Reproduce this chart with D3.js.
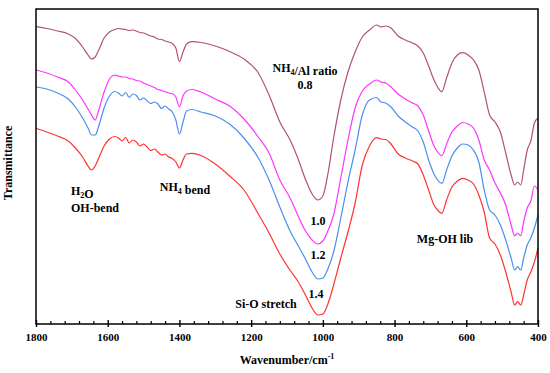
<!DOCTYPE html>
<html>
<head>
<meta charset="utf-8">
<script src="https://cdn.jsdelivr.net/npm/d3@7"></script>
<style>
  body { margin: 0; background: #fff; }
  text { font-family: "Times New Roman", "Liberation Serif", serif; font-weight: bold; }
</style>
</head>
<body>
<svg id="chart"></svg>
<script>
// wavenumber grid (cm-1), shared by all four spectra
const wavenumbers = [1800,1770,1740,1710,1690,1670,1655,1645,1635,1625,1610,1595,1580,1570,1560,1550,1540,1530,1520,1510,1500,1490,1480,1470,1460,1450,1440,1430,1420,1410,1400,1390,1380,1365,1340,1300,1260,1220,1180,1150,1120,1090,1070,1050,1030,1014,1000,985,970,950,930,910,890,870,850,838,825,810,790,770,750,735,720,705,690,680,668,655,640,625,610,595,580,565,550,535,520,505,490,475,465,457,448,440,430,420,410,400];

// transmittance (a.u., stacked) per NH4/Al ratio
const ratio08 = [297.3,295.5,293,290,285.5,277,269,265,267,274,286,292,294.5,295.5,295,294.5,293.5,294,293,291.5,291,289.5,288,287,285,284.5,283,282,280.5,276,262.5,272,280,282.3,281.5,278,272.5,265,251,229,202,183,166,146,130,124,128,152,186,224,252,272,287,294,299,297,298,296,288,284,281,278,271,258,244,237,232.3,246,261,269,271.3,269,264,254,232,209,202,192,171,149,139,142,139,154,174,183,201,206];
const ratio10 = [254,251,247,242,234,224,215,209,204,214,232,245,249,248,247,247,245.5,245,243.5,243,241,239.5,238,236.5,234.5,233.5,232.5,231,230.5,227,217.3,228,233,234.5,232,225,218,205,187,171,144,125,109,94,84,80,83,94,109,146,184,216,233,240,244,242,241,237,230,225,221,218,209,193,178,172,168.3,180,192,198,201.5,200,196,184,164,154,141,131,119,99,88.3,91,88.3,102,116,123,138,134];
const ratio12 = [237,235,231,225,217,206,196,189,189,198,216,228,232.5,231,228,231.5,226.5,230,228.5,224,226,223,220.5,222,220,215.5,218,215,212,204,190,202,213,214.5,212,208,200,186,166,144,117,92,79,66,52,45,46,56,72,106,142,174,209,224,226.5,222,221,217,208,202,197,193,182,164,150,144,140.7,154,168,176,180,179,174,162,134,114,109,99,84,66,54,57.3,54,66,79,86,96,109];
const ratio14 = [195.7,192,188,183,176,167,158,154,158,166,178,185,187.5,186,183,186.5,181,184,182,178,180,177,173.5,175,172,169,170,167,165.5,162,156,164,170,170.7,168.5,160,148,134,110,91,70,53,43,30,16,9,10,21,39,66,92,121,159,178,186.3,185,184.5,180,170,166,163,160,149,134,119,114,110.7,124,137,143,145.7,144,140,129,112,86,80,69,52,32,19,22.3,19,29,44,52,62,76];

const seriesNames = ['0.8', '1.0', '1.2', '1.4'];
const seriesColors = ['#b25274', '#ff33ff', '#4a8ff0', '#ff3333'];
const xTicks = [1800, 1600, 1400, 1200, 1000, 800, 600, 400];

const width = 550, height = 373;
const margin = {top: 9, right: 12, bottom: 49, left: 36};
const innerW = width - margin.left - margin.right;
const innerH = height - margin.top - margin.bottom;

const svg = d3.select('#chart')
    .attr('width', width)
    .attr('height', height);

const chart = svg.append('g')
    .attr('transform', `translate(${margin.left}, ${margin.top})`);

const xscale = d3.scaleLinear().domain([1800, 400]).range([0, innerW]);
const yscale = d3.scaleLinear().domain([0, 315]).range([innerH, 0]);

const line = d3.line()
    .x(d => xscale(d[0]))
    .y(d => yscale(d[1]))
    .curve(d3.curveMonotoneX);

[ratio08, ratio10, ratio12, ratio14].forEach((vals, i) => {
    chart.append('path')
        .datum(wavenumbers.map((w, j) => [w, vals[j]]))
        .attr('fill', 'none')
        .attr('stroke', seriesColors[i])
        .attr('stroke-width', 1.2)
        .attr('d', line);
});

// frame
chart.append('rect')
    .attr('width', innerW)
    .attr('height', innerH)
    .attr('fill', 'none')
    .attr('stroke', '#000')
    .attr('stroke-width', 1.5);

// minor ticks (inside)
const xaxisMinor = d3.axisBottom(xscale)
    .tickValues(d3.range(1760, 400, -40).filter(v => v % 200 !== 0))
    .tickSize(-3)
    .tickFormat('');
chart.append('g')
    .attr('transform', `translate(0, ${innerH})`)
    .call(xaxisMinor)
    .call(g => g.select('.domain').remove())
    .selectAll('line').attr('stroke-width', 1.2);

// major ticks crossing the axis
const xaxis = d3.axisBottom(xscale)
    .tickValues(xTicks)
    .tickSize(3)
    .tickPadding(6)
    .tickFormat(d3.format('d'));
const xg = chart.append('g')
    .attr('transform', `translate(0, ${innerH})`)
    .call(xaxis);
xg.select('.domain').remove();
xg.selectAll('.tick line').attr('y1', -4).attr('stroke-width', 1.4);
xg.selectAll('text')
    .attr('font-size', '11px')
    .attr('font-family', '"Times New Roman", "Liberation Serif", serif')
    .attr('font-weight', 'bold')
    .attr('fill', '#000');

// axis labels
const xl = svg.append('text')
    .attr('x', margin.left + innerW / 2)
    .attr('y', 364)
    .attr('text-anchor', 'middle')
    .style('font-size', '12px');
xl.append('tspan').text('Wavenumber/cm');
xl.append('tspan').attr('dy', -5).style('font-size', '8px').text('-1');

svg.append('text')
    .attr('transform', 'rotate(-90)')
    .attr('x', -163)
    .attr('y', 12)
    .attr('text-anchor', 'middle')
    .style('font-size', '12px')
    .text('Transmittance');

// annotations
function label(x, y, parts) {
    const t = svg.append('text')
        .attr('x', x).attr('y', y)
        .attr('text-anchor', 'middle')
        .style('font-size', '12px');
    parts.forEach(p => {
        if (typeof p === 'string') t.append('tspan').text(p);
        else {
            t.append('tspan').attr('dy', 3).style('font-size', '8px').text(p.sub);
            t.append('tspan').attr('dy', -3).text('');
        }
    });
    return t;
}

label(305, 72, ['NH', {sub: '4'}, '/Al ratio']);
label(305, 89, [seriesNames[0]]);
label(318, 225, [seriesNames[1]]);
label(318, 259, [seriesNames[2]]);
label(316, 298, [seriesNames[3]]);
label(266, 308, ['Si-O stretch']);
label(445, 243, ['Mg-OH lib']);
label(185, 191, ['NH', {sub: '4'}, ' bend']);
label(71, 195, ['H', {sub: '2'}, 'O']).attr('text-anchor', 'start');
label(71, 212, ['OH-bend']).attr('text-anchor', 'start');
</script>
</body>
</html>
